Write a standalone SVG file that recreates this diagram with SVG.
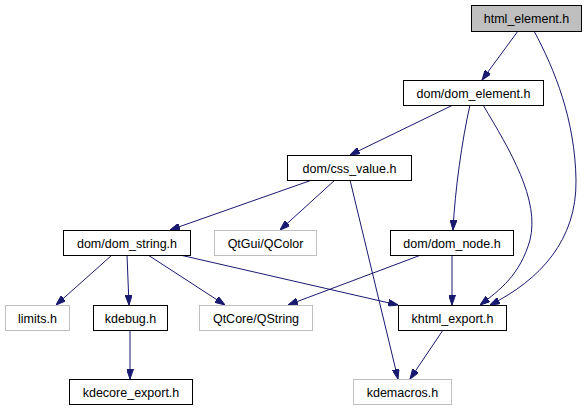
<svg xmlns="http://www.w3.org/2000/svg" width="587" height="411" viewBox="0 0 587 411">
<defs>
<marker id="arr" viewBox="0 0 10 7" refX="10" refY="3.5" markerUnits="userSpaceOnUse" markerWidth="10" markerHeight="7" orient="auto">
<path d="M0,0 L10,3.5 L0,7 Z" fill="#191970" stroke="#191970"/>
</marker>
</defs>
<style>
.n rect{fill:#fff;stroke:#000;stroke-width:1}
.g rect{fill:#fff;stroke:#bfbfbf;stroke-width:1}
.root rect{fill:#bfbfbf;stroke:#000;stroke-width:1}
text{font-family:"Liberation Sans",Arial,sans-serif;font-size:12.5px;fill:#000;text-anchor:middle}
.e path{fill:none;stroke:#191970;stroke-width:1;marker-end:url(#arr)}
</style>
<rect width="587" height="411" fill="#fff"/>
<g class="e" id="edges">
<path d="M518,31 L482,80"/>
<path d="M534,31 C555,70 575,120 576,180 C577,240 540,280 490,305"/>
<path d="M453,105 L350,155"/>
<path d="M470,105 C462,140 455,190 453,230"/>
<path d="M483,105 C510,150 540,200 530,240 C520,275 500,290 480,305"/>
<path d="M312,180 L170,230"/>
<path d="M335,180 L280,230"/>
<path d="M350,180 L398,379"/>
<path d="M112,255 L56,305"/>
<path d="M127,255 L129,305"/>
<path d="M148,255 L225,305"/>
<path d="M180,255 L398,305"/>
<path d="M421,255 L288,305"/>
<path d="M452,255 L452,305"/>
<path d="M443,330 L410,379"/>
<path d="M130,330 L130,379"/>
</g>
<g id="html_element" class="root"><rect x="471.5" y="5.5" width="110" height="26"/><text x="526.5" y="23">html_element.h</text></g>
<g id="dom_element" class="n"><rect x="403.5" y="80.5" width="140" height="25"/><text x="473.5" y="97.5">dom/dom_element.h</text></g>
<g id="css_value" class="n"><rect x="287.5" y="155.5" width="124" height="25"/><text x="349.5" y="172.5">dom/css_value.h</text></g>
<g id="qcolor" class="g"><rect x="214.5" y="230.5" width="102" height="25"/><text x="265.5" y="247.5">QtGui/QColor</text></g>
<g id="dom_string" class="n"><rect x="63.5" y="230.5" width="127" height="25"/><text x="127" y="247.5">dom/dom_string.h</text></g>
<g id="dom_node" class="n"><rect x="390.5" y="230.5" width="123" height="25"/><text x="452" y="247.5">dom/dom_node.h</text></g>
<g id="limits" class="g"><rect x="5.5" y="305.5" width="64" height="25"/><text x="37.5" y="322.5">limits.h</text></g>
<g id="kdebug" class="n"><rect x="93.5" y="305.5" width="74" height="25"/><text x="130.5" y="322.5">kdebug.h</text></g>
<g id="qstring" class="g"><rect x="199.5" y="305.5" width="113" height="25"/><text x="256" y="322.5">QtCore/QString</text></g>
<g id="khtml_export" class="n"><rect x="398.5" y="305.5" width="108" height="25"/><text x="452.5" y="322.5">khtml_export.h</text></g>
<g id="kdecore_export" class="n"><rect x="69.5" y="379.5" width="123" height="25"/><text x="131" y="396.5">kdecore_export.h</text></g>
<g id="kdemacros" class="g"><rect x="353.5" y="379.5" width="98" height="25"/><text x="402.5" y="396.5">kdemacros.h</text></g>
</svg>
